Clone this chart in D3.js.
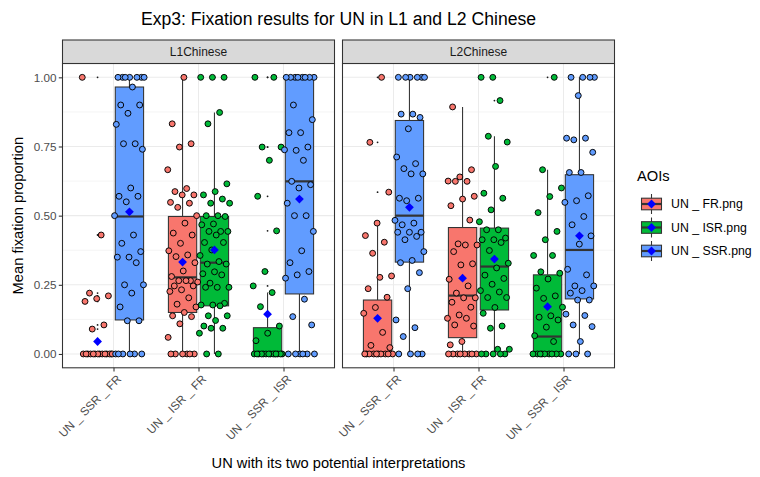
<!DOCTYPE html>
<html>
<head>
<meta charset="utf-8">
<script src="https://cdn.jsdelivr.net/npm/d3@7"></script>
<style>
  body { margin: 0; background: #fff; }
  svg text { font-family: "Liberation Sans", Arial, Helvetica, sans-serif; }
</style>
</head>
<body>
<svg id="chart" width="760" height="477"></svg>
<script>
// ---- Data ---------------------------------------------------------------
const facets = ["L1Chinese", "L2Chinese"];
const interpretations = ["UN _ SSR _ FR", "UN _ ISR _ FR", "UN _ SSR _ ISR"];
const aois = ["UN _ FR.png", "UN _ ISR.png", "UN _ SSR.png"];
const aoiColors = ["#F8766D", "#00BA38", "#619CFF"];
// which AOIs are shown (left, right) inside each interpretation
const interpretationAois = [[0, 2], [0, 1], [1, 2]];
const yTickValues = [0, 0.25, 0.5, 0.75, 1];

// per-participant mean fixation proportions, L1 group
const l1_SSR_FR_FR = [1.0, 0.43, 0.22, 0.21, 0.20, 0.19, 0.105, 0.09,
  0, 0, 0, 0, 0, 0, 0, 0, 0, 0, 0, 0, 0, 0];
const l1_SSR_FR_SSR = [1, 1, 1, 1, 1, 1, 1, 0.965, 0.9, 0.9, 0.87, 0.83, 0.76, 0.76, 0.74,
  0.60, 0.57, 0.57, 0.55, 0.50, 0.43, 0.40, 0.37, 0.35, 0.35, 0.33, 0.25, 0.25, 0.22,
  0.17, 0.12, 0.12, 0, 0, 0, 0, 0, 0];
const l1_ISR_FR_FR = [1.0, 0.832, 0.76, 0.748, 0.666, 0.598, 0.587, 0.575, 0.575, 0.548,
  0.545, 0.53, 0.5, 0.473, 0.437, 0.43, 0.4, 0.373, 0.358, 0.352, 0.33, 0.3, 0.28,
  0.265, 0.265, 0.26, 0.265, 0.246, 0.246, 0.232, 0.226, 0.203, 0.18, 0.17, 0.15,
  0.138, 0.135, 0.109, 0.06, 0, 0, 0, 0, 0, 0];
const l1_ISR_FR_ISR = [1, 1, 1, 0.873, 0.832, 0.615, 0.587, 0.575, 0.56, 0.545, 0.545,
  0.5, 0.5, 0.497, 0.47, 0.467, 0.443, 0.443, 0.443, 0.43, 0.403, 0.403, 0.376, 0.356,
  0.334, 0.325, 0.325, 0.297, 0.29, 0.286, 0.256, 0.241, 0.241, 0.241, 0.183, 0.177,
  0.177, 0.174, 0.138, 0.138, 0.121, 0.101, 0.093, 0.093, 0.075, 0, 0];
const l1_SSR_ISR_ISR = [1, 1, 0.748, 0.748, 0.7, 0.57, 0.445, 0.298, 0.246, 0.222, 0.171,
  0.101, 0.075, 0.048, 0, 0, 0, 0, 0, 0, 0, 0, 0, 0, 0, 0, 0, 0];
const l1_SSR_ISR_SSR = [1, 1, 1, 1, 1, 1, 1, 1, 0.9, 0.847, 0.8, 0.8, 0.748, 0.736, 0.738,
  0.7, 0.624, 0.612, 0.6, 0.545, 0.5, 0.5, 0.443, 0.373, 0.33, 0.298, 0.286, 0.274,
  0.198, 0.135, 0.105, 0, 0, 0, 0, 0, 0];

// per-participant mean fixation proportions, L2 group
const l2_SSR_FR_FR = [1.0, 0.765, 0.585, 0.473, 0.428, 0.404, 0.364, 0.282, 0.277, 0.236,
  0.205, 0.168, 0.147, 0.078, 0.031, 0.023, 0, 0, 0, 0, 0, 0, 0, 0, 0, 0];
const l2_SSR_FR_SSR = [1, 1, 1, 1, 1, 1, 0.867, 0.867, 0.855, 0.814, 0.712, 0.688, 0.67,
  0.651, 0.651, 0.563, 0.563, 0.554, 0.483, 0.473, 0.467, 0.44, 0.44, 0.44, 0.425,
  0.413, 0.37, 0.338, 0.33, 0.294, 0.236, 0.123, 0.095, 0.063, 0, 0, 0, 0];
const l2_ISR_FR_FR = [0.893, 0.666, 0.64, 0.625, 0.624, 0.624, 0.57, 0.56, 0.536, 0.484,
  0.398, 0.394, 0.394, 0.37, 0.326, 0.322, 0.27, 0.246, 0.22, 0.203, 0.203, 0.187,
  0.169, 0.141, 0.129, 0.129, 0.105, 0.101, 0.045, 0.033, 0, 0, 0, 0, 0, 0, 0, 0];
const l2_ISR_FR_ISR = [1, 1, 0.916, 0.787, 0.766, 0.678, 0.581, 0.563, 0.521, 0.478,
  0.449, 0.449, 0.419, 0.413, 0.413, 0.403, 0.374, 0.328, 0.311, 0.285, 0.273, 0.252,
  0.229, 0.224, 0.204, 0.204, 0.168, 0.147, 0.101, 0.093, 0.017, 0.017, 0, 0, 0, 0, 0];
const l2_SSR_ISR_ISR = [1.0, 0.666, 0.6, 0.569, 0.511, 0.443, 0.413, 0.356, 0.356, 0.297,
  0.292, 0.271, 0.238, 0.21, 0.201, 0.169, 0.138, 0.133, 0.123, 0.097, 0.066, 0.045,
  0, 0, 0, 0, 0, 0, 0, 0, 0];
const l2_SSR_ISR_SSR = [1, 1, 1, 1, 0.934, 0.78, 0.78, 0.774, 0.729, 0.656, 0.656, 0.572,
  0.554, 0.548, 0.497, 0.467, 0.427, 0.397, 0.306, 0.286, 0.246, 0.246, 0.229, 0.22,
  0.195, 0.195, 0.144, 0.139, 0.105, 0.099, 0.045, 0, 0, 0];

// box summaries, nested [interpretation][left, right]
const l1Lower  = [[0, 0], [0, 0], [0, 0]];
const l1Q1     = [[0, 0.123], [0.15, 0.174], [0, 0.217]];
const l1Median = [[0, 0.497], [0.277, 0.33], [0, 0.624]];
const l1Q3     = [[0, 0.965], [0.497, 0.497], [0.095, 1]];
const l1Upper  = [[0, 1], [1, 0.873], [0.222, 1]];
const l1Mean   = [[0.045, 0.514], [0.332, 0.376], [0.144, 0.56]];

const l2Lower  = [[0, 0], [0, 0], [0, 0]];
const l2Q1     = [[0, 0.332], [0.059, 0.159], [0, 0.199]];
const l2Median = [[0, 0.5], [0.211, 0.316], [0.063, 0.376]];
const l2Q3     = [[0.195, 0.844], [0.457, 0.455], [0.286, 0.648]];
const l2Upper  = [[0.473, 1], [0.893, 0.787], [0.666, 1]];
const l2Mean   = [[0.129, 0.53], [0.274, 0.343], [0.171, 0.427]];

const facetPoints = [
  [[l1_SSR_FR_FR, l1_SSR_FR_SSR], [l1_ISR_FR_FR, l1_ISR_FR_ISR], [l1_SSR_ISR_ISR, l1_SSR_ISR_SSR]],
  [[l2_SSR_FR_FR, l2_SSR_FR_SSR], [l2_ISR_FR_FR, l2_ISR_FR_ISR], [l2_SSR_ISR_ISR, l2_SSR_ISR_SSR]]
];
const facetStats = [
  {lower: l1Lower, q1: l1Q1, median: l1Median, q3: l1Q3, upper: l1Upper, mean: l1Mean},
  {lower: l2Lower, q1: l2Q1, median: l2Median, q3: l2Q3, upper: l2Upper, mean: l2Mean}
];

// ---- Layout -------------------------------------------------------------
const svg = d3.select("#chart");
const ink = "#333333";
const grid = "#EBEBEB";
const stripTop = 40, panelTop = 63.5, panelBottom = 367.8;
const panelX = [[62.5, 334.5], [342.5, 614.5]];

const y = d3.scaleLinear().domain([-0.05, 1.05]).range([panelBottom, panelTop]);
const minorTicks = [0.125, 0.375, 0.625, 0.875];

const diamond = r => `M0,${-r}L${r},0L0,${r}L${-r},0Z`;
// evenly spread, repeatable horizontal offsets for the jittered points
const spread = (i, k) => (((i * 0.6180339887 + k * 0.2718) % 1) - 0.5) * 2;

facets.forEach((facet, fi) => {
  const [x0, x1] = panelX[fi];
  const x = d3.scalePoint().domain(interpretations).range([x0, x1]).padding(0.6);
  const step = x.step();
  const dodge = 0.1875 * step;
  const boxW = 0.333 * step;
  const jitterW = 0.18 * step;
  const stats = facetStats[fi];
  const g = svg.append("g");

  g.append("rect").attr("x", x0).attr("y", panelTop)
    .attr("width", x1 - x0).attr("height", panelBottom - panelTop).attr("fill", "#fff");

  // grid
  g.selectAll(".minor").data(minorTicks).join("line")
    .attr("x1", x0).attr("x2", x1).attr("y1", d => y(d)).attr("y2", d => y(d))
    .attr("stroke", grid).attr("stroke-width", 0.55);
  g.selectAll(".majorY").data(yTickValues).join("line")
    .attr("x1", x0).attr("x2", x1).attr("y1", d => y(d)).attr("y2", d => y(d))
    .attr("stroke", grid).attr("stroke-width", 1.07);
  g.selectAll(".majorX").data(interpretations).join("line")
    .attr("x1", d => x(d)).attr("x2", d => x(d)).attr("y1", panelTop).attr("y2", panelBottom)
    .attr("stroke", grid).attr("stroke-width", 1.07);

  // flatten groups
  const groups = [];
  interpretations.forEach((cat, ci) => {
    interpretationAois[ci].forEach((ai, si) => {
      groups.push({
        cat, ci, si, aoi: ai,
        cx: x(cat) + (si === 0 ? -dodge : dodge),
        values: facetPoints[fi][ci][si],
        lower: stats.lower[ci][si], q1: stats.q1[ci][si], median: stats.median[ci][si],
        q3: stats.q3[ci][si], upper: stats.upper[ci][si], mean: stats.mean[ci][si]
      });
    });
  });

  // boxplots
  groups.forEach(b => {
    const bg = g.append("g");
    bg.append("line").attr("x1", b.cx).attr("x2", b.cx)
      .attr("y1", y(b.upper)).attr("y2", y(b.q3)).attr("stroke", ink).attr("stroke-width", 1.07);
    bg.append("line").attr("x1", b.cx).attr("x2", b.cx)
      .attr("y1", y(b.q1)).attr("y2", y(b.lower)).attr("stroke", ink).attr("stroke-width", 1.07);
    bg.append("rect").attr("x", b.cx - boxW / 2).attr("width", boxW)
      .attr("y", y(b.q3)).attr("height", Math.max(0, y(b.q1) - y(b.q3)))
      .attr("fill", aoiColors[b.aoi]).attr("stroke", ink).attr("stroke-width", 1.07);
    bg.append("line").attr("x1", b.cx - boxW / 2).attr("x2", b.cx + boxW / 2)
      .attr("y1", y(b.median)).attr("y2", y(b.median)).attr("stroke", ink).attr("stroke-width", 2.2);
    // outliers: values beyond the whiskers
    bg.selectAll(".out").data(b.values.filter(v => v > b.upper || v < b.lower)).join("circle")
      .attr("cx", b.cx).attr("cy", d => y(d)).attr("r", 0.9).attr("fill", "#1a1a1a");
  });

  // jittered participant points
  groups.forEach((b, gi) => {
    g.append("g").selectAll("circle").data(b.values).join("circle")
      .attr("cx", (d, i) => b.cx + spread(i, gi + fi * 6) * jitterW)
      .attr("cy", d => y(d))
      .attr("r", 2.95)
      .attr("fill", aoiColors[b.aoi])
      .attr("stroke", "#000").attr("stroke-width", 0.95);
  });

  // means
  groups.forEach(b => {
    g.append("path").attr("d", diamond(4.4))
      .attr("transform", `translate(${b.cx},${y(b.mean)})`)
      .attr("fill", "#0000FF");
  });

  // panel border
  g.append("rect").attr("x", x0).attr("y", panelTop)
    .attr("width", x1 - x0).attr("height", panelBottom - panelTop)
    .attr("fill", "none").attr("stroke", ink).attr("stroke-width", 1.07);

  // strip
  g.append("rect").attr("x", x0).attr("y", stripTop)
    .attr("width", x1 - x0).attr("height", panelTop - stripTop)
    .attr("fill", "#D9D9D9").attr("stroke", ink).attr("stroke-width", 1.07);
  g.append("text").attr("x", (x0 + x1) / 2).attr("y", (stripTop + panelTop) / 2)
    .attr("dy", "0.36em").attr("text-anchor", "middle")
    .attr("font-size", 12).attr("fill", "#1A1A1A").text(facet);

  // x axis
  const xa = svg.append("g").attr("transform", `translate(0,${panelBottom})`)
    .call(d3.axisBottom(x).tickSize(3.7).tickPadding(2.2));
  xa.select(".domain").remove();
  xa.selectAll(".tick line").attr("stroke", ink).attr("stroke-width", 1.07);
  xa.selectAll(".tick text")
    .attr("y", null).attr("dy", "0.72em")
    .attr("transform", "translate(2,5.9) rotate(-45)")
    .attr("text-anchor", "end")
    .attr("font-size", 11.7).attr("fill", "#4D4D4D")
    .attr("font-family", null);
});

// y axis
const ya = svg.append("g").attr("transform", `translate(${panelX[0][0]},0)`)
  .call(d3.axisLeft(y).tickValues(yTickValues).tickFormat(d3.format(".2f"))
    .tickSize(3.7).tickPadding(2.2));
ya.select(".domain").remove();
ya.selectAll(".tick line").attr("stroke", ink).attr("stroke-width", 1.07);
ya.selectAll(".tick text").attr("font-size", 11.7).attr("fill", "#4D4D4D").attr("font-family", null);

// titles
const plotMid = (panelX[0][0] + panelX[1][1]) / 2;
svg.append("text").attr("x", plotMid).attr("y", 25).attr("text-anchor", "middle")
  .attr("font-size", 17.6).attr("fill", "#000")
  .text("Exp3: Fixation results for UN in L1 and L2 Chinese");
svg.append("text").attr("x", plotMid).attr("y", 468).attr("text-anchor", "middle")
  .attr("font-size", 14.7).attr("fill", "#000")
  .text("UN with its two potential interpretations");
svg.append("text")
  .attr("transform", `translate(23,${(panelTop + panelBottom) / 2}) rotate(-90)`)
  .attr("text-anchor", "middle").attr("font-size", 14.7).attr("fill", "#000")
  .text("Mean fixation proportion");

// legend
const lg = svg.append("g");
lg.append("text").attr("x", 637).attr("y", 181).attr("font-size", 14.7).attr("fill", "#000").text("AOIs");
aois.forEach((name, i) => {
  const cy = 204 + i * 23.5, cx = 651.5;
  const row = lg.append("g");
  row.append("line").attr("x1", cx).attr("x2", cx).attr("y1", cy - 10).attr("y2", cy + 10)
    .attr("stroke", ink).attr("stroke-width", 1.07);
  row.append("rect").attr("x", cx - 10).attr("y", cy - 5.8).attr("width", 20).attr("height", 11.6)
    .attr("fill", aoiColors[i]).attr("stroke", ink).attr("stroke-width", 1.07);
  row.append("line").attr("x1", cx - 10).attr("x2", cx + 10).attr("y1", cy).attr("y2", cy)
    .attr("stroke", ink).attr("stroke-width", 2.2);
  row.append("path").attr("d", diamond(4.4)).attr("transform", `translate(${cx},${cy})`).attr("fill", "#0000FF");
  row.append("text").attr("x", 671).attr("y", cy).attr("dy", "0.36em")
    .attr("font-size", 12.3).attr("fill", "#000").text(name);
});
</script>
</body>
</html>
